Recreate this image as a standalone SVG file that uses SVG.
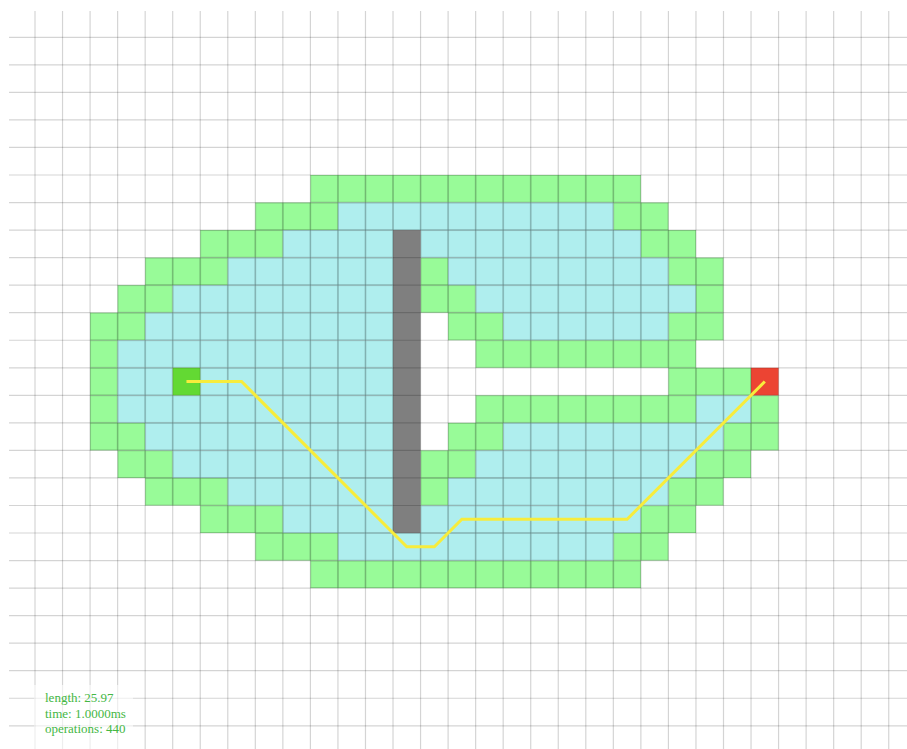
<svg xmlns="http://www.w3.org/2000/svg" width="907" height="749" viewBox="0 0 907 749">
<defs>
<pattern id="po" width="30" height="30" patternUnits="userSpaceOnUse"><rect width="30" height="30" fill="#98fb98"/><path d="M0 0H30V30H0Z" stroke="#000" stroke-opacity="0.16" stroke-width="1.4" fill="none"/></pattern>
<pattern id="pc" width="30" height="30" patternUnits="userSpaceOnUse"><rect width="30" height="30" fill="#afeeee"/><path d="M0 0H30V30H0Z" stroke="#000" stroke-opacity="0.16" stroke-width="1.4" fill="none"/></pattern>
<style>
.o{fill:url(#po)}
.c{fill:url(#pc)}
.grid{fill:none;stroke:#000;stroke-opacity:0.17;stroke-width:1.3}
.stat{font-family:"Liberation Serif","Times New Roman",serif;font-size:13px;fill:#44b744}
</style>
</defs>
<rect width="907" height="749" fill="#fff"/>
<g transform="translate(7.46 9.76) scale(0.918)">
<g id="opened">
<rect class="o" x="330" y="180" width="360" height="30"/>
<rect class="o" x="270" y="210" width="90" height="30"/><rect class="o" x="660" y="210" width="60" height="30"/>
<rect class="o" x="210" y="240" width="90" height="30"/><rect class="o" x="690" y="240" width="60" height="30"/>
<rect class="o" x="150" y="270" width="90" height="30"/><rect class="o" x="450" y="270" width="30" height="30"/><rect class="o" x="720" y="270" width="60" height="30"/>
<rect class="o" x="120" y="300" width="60" height="30"/><rect class="o" x="450" y="300" width="60" height="30"/><rect class="o" x="750" y="300" width="30" height="30"/>
<rect class="o" x="90" y="330" width="60" height="30"/><rect class="o" x="480" y="330" width="60" height="30"/><rect class="o" x="720" y="330" width="60" height="30"/>
<rect class="o" x="90" y="360" width="30" height="30"/><rect class="o" x="510" y="360" width="240" height="30"/>
<rect class="o" x="90" y="390" width="30" height="30"/><rect class="o" x="720" y="390" width="90" height="30"/>
<rect class="o" x="90" y="420" width="30" height="30"/><rect class="o" x="510" y="420" width="240" height="30"/><rect class="o" x="810" y="420" width="30" height="30"/>
<rect class="o" x="90" y="450" width="60" height="30"/><rect class="o" x="480" y="450" width="60" height="30"/><rect class="o" x="780" y="450" width="60" height="30"/>
<rect class="o" x="120" y="480" width="60" height="30"/><rect class="o" x="450" y="480" width="60" height="30"/><rect class="o" x="750" y="480" width="60" height="30"/>
<rect class="o" x="150" y="510" width="90" height="30"/><rect class="o" x="450" y="510" width="30" height="30"/><rect class="o" x="720" y="510" width="60" height="30"/>
<rect class="o" x="210" y="540" width="90" height="30"/><rect class="o" x="690" y="540" width="60" height="30"/>
<rect class="o" x="270" y="570" width="90" height="30"/><rect class="o" x="660" y="570" width="60" height="30"/>
<rect class="o" x="330" y="600" width="360" height="30"/>
</g>
<g id="closed">
<rect class="c" x="360" y="210" width="300" height="30"/>
<rect class="c" x="300" y="240" width="120" height="30"/><rect class="c" x="450" y="240" width="240" height="30"/>
<rect class="c" x="240" y="270" width="180" height="30"/><rect class="c" x="480" y="270" width="240" height="30"/>
<rect class="c" x="180" y="300" width="240" height="30"/><rect class="c" x="510" y="300" width="240" height="30"/>
<rect class="c" x="150" y="330" width="270" height="30"/><rect class="c" x="540" y="330" width="180" height="30"/>
<rect class="c" x="120" y="360" width="300" height="30"/>
<rect class="c" x="120" y="390" width="60" height="30"/><rect class="c" x="210" y="390" width="210" height="30"/>
<rect class="c" x="120" y="420" width="300" height="30"/><rect class="c" x="750" y="420" width="60" height="30"/>
<rect class="c" x="150" y="450" width="270" height="30"/><rect class="c" x="540" y="450" width="240" height="30"/>
<rect class="c" x="180" y="480" width="240" height="30"/><rect class="c" x="510" y="480" width="240" height="30"/>
<rect class="c" x="240" y="510" width="180" height="30"/><rect class="c" x="480" y="510" width="240" height="30"/>
<rect class="c" x="300" y="540" width="120" height="30"/><rect class="c" x="450" y="540" width="240" height="30"/>
<rect class="c" x="360" y="570" width="300" height="30"/>
</g>
<g id="wall"><rect x="420" y="240" width="30" height="330" fill="#7f7f7f"/></g>
<g id="start"><rect x="180" y="390" width="30" height="30" fill="#63d933"/></g>
<g id="end"><rect x="810" y="390" width="30" height="30" fill="#ec4433"/></g>
<g id="grid">
<path class="grid" d="M30 1.4V806M60 1.4V806M90 1.4V806M120 1.4V806M150 1.4V806M180 1.4V806M210 1.4V806M240 1.4V806M270 1.4V806M300 1.4V806M330 1.4V806M360 1.4V806M390 1.4V806M420 1.4V806M450 1.4V806M480 1.4V806M510 1.4V806M540 1.4V806M570 1.4V806M600 1.4V806M630 1.4V806M660 1.4V806M690 1.4V806M720 1.4V806M750 1.4V806M780 1.4V806M810 1.4V806M840 1.4V806M870 1.4V806M900 1.4V806M930 1.4V806M960 1.4V806"/>
<path class="grid" d="M1.7 30H990M1.7 60H990M1.7 90H990M1.7 120H990M1.7 150H990M1.7 180H990M1.7 210H990M1.7 240H990M1.7 270H990M1.7 300H990M1.7 330H990M1.7 360H990M1.7 390H990M1.7 420H990M1.7 450H990M1.7 480H990M1.7 510H990M1.7 540H990M1.7 570H990M1.7 600H990M1.7 630H990M1.7 660H990M1.7 690H990M1.7 720H990M1.7 750H990M1.7 780H990"/>
</g>
<g id="connectors">
<polyline points="195,405 255,405 435,585 465,585 495,555 675,555 825,405" fill="none" stroke="#f7ec3c" stroke-width="3.3"/>
</g>
</g>
<g id="stats">
<rect x="34" y="685" width="99" height="64" fill="#fff" fill-opacity="0.6"/>
<text class="stat" x="45" y="702">length: 25.97</text>
<text class="stat" x="45" y="717.5">time: 1.0000ms</text>
<text class="stat" x="45" y="733">operations: 440</text>
</g>
</svg>
